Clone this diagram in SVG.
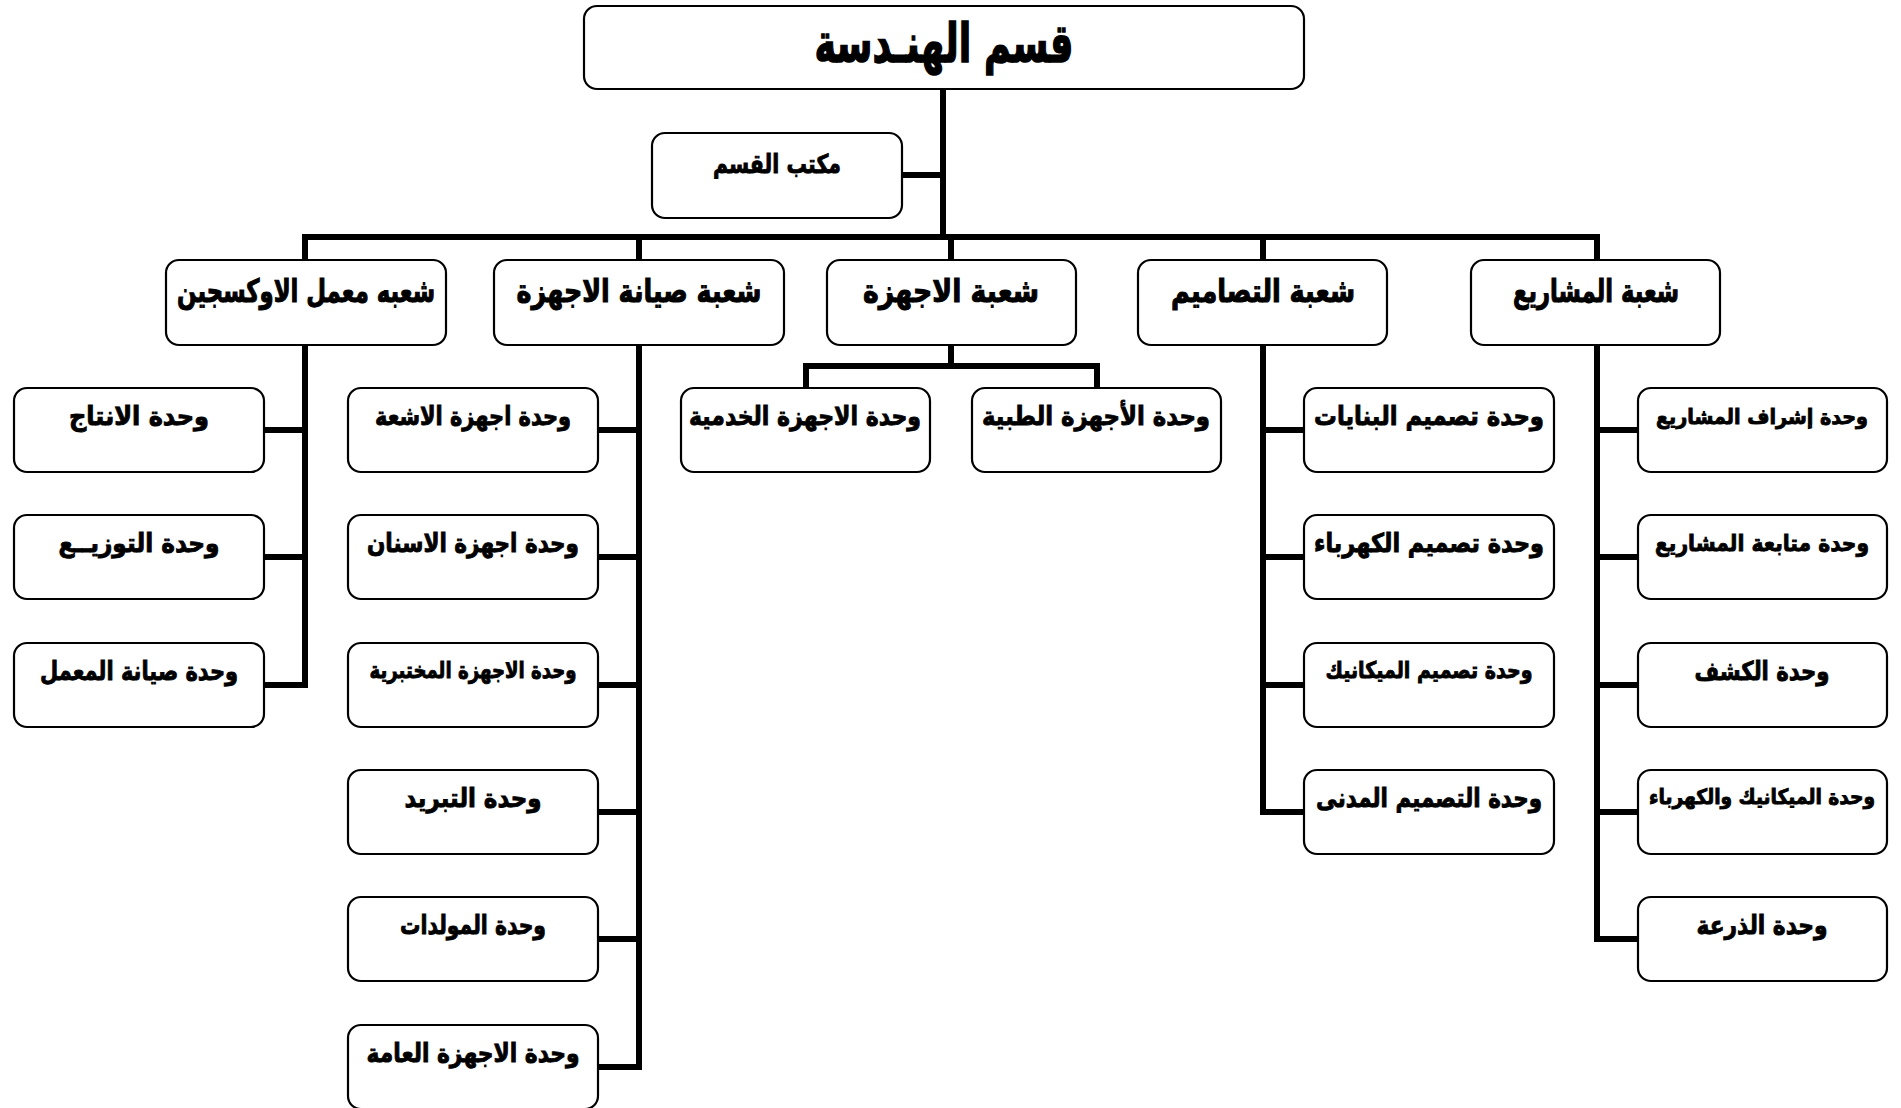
<svg xmlns="http://www.w3.org/2000/svg" width="1901" height="1108" viewBox="0 0 1901 1108">
<style>
.box{fill:#fff;stroke:#000;stroke-width:2.2}
.ln{stroke:#000;stroke-width:6;fill:none;stroke-linecap:square}
text{font-family:"DejaVu Sans",sans-serif;font-weight:bold;fill:#000;stroke:#000;stroke-width:0.9;text-anchor:middle}
.t0{font-size:54px;stroke-width:1.6}
.t1{font-size:32px;stroke-width:1.1}
.t2{font-size:26px}
.t3{font-size:23px}
.t4{font-size:21px}
</style>
<rect width="1901" height="1108" fill="#fff"/>
<g id="connectors">
<path class="ln" d="M943 89V237M902 175H943M305 237H1597M305 237V260M639 237V260M951 237V260M1263 237V260M1597 237V260"/>
<path class="ln" d="M305 345V685M264 430H305M264 557H305M264 685H305"/>
<path class="ln" d="M639 345V1067M598 430H639M598 557H639M598 685H639M598 812H639M598 939H639M598 1067H639"/>
<path class="ln" d="M951 345V366M806 366H1097M806 366V388M1097 366V388"/>
<path class="ln" d="M1263 345V812M1263 430H1304M1263 557H1304M1263 685H1304M1263 812H1304"/>
<path class="ln" d="M1597 345V939M1597 430H1638M1597 557H1638M1597 685H1638M1597 812H1638M1597 939H1638"/>
</g>
<g id="n-root"><rect class="box" x="584" y="6" width="720" height="83" rx="13"/><text class="t0" x="944" y="62" textLength="259" lengthAdjust="spacingAndGlyphs">قسم الهنـدسة</text></g>
<g id="n-office"><rect class="box" x="652" y="133" width="250" height="85" rx="13"/><text class="t2" x="777" y="173" textLength="128" lengthAdjust="spacingAndGlyphs">مكتب القسم</text></g>

<g id="n-oxygen"><rect class="box" x="166" y="260" width="280" height="85" rx="13"/><text class="t1" x="306" y="302" textLength="258" lengthAdjust="spacingAndGlyphs">شعبه معمل الاوكسجين</text></g>
<g id="n-maint"><rect class="box" x="494" y="260" width="290" height="85" rx="13"/><text class="t1" x="639" y="302" textLength="245" lengthAdjust="spacingAndGlyphs">شعبة صيانة الاجهزة</text></g>
<g id="n-devices"><rect class="box" x="827" y="260" width="249" height="85" rx="13"/><text class="t1" x="951" y="302" textLength="176" lengthAdjust="spacingAndGlyphs">شعبة الاجهزة</text></g>
<g id="n-designs"><rect class="box" x="1138" y="260" width="249" height="85" rx="13"/><text class="t1" x="1263" y="302" textLength="184" lengthAdjust="spacingAndGlyphs">شعبة التصاميم</text></g>
<g id="n-projects"><rect class="box" x="1471" y="260" width="249" height="85" rx="13"/><text class="t1" x="1596" y="302" textLength="166" lengthAdjust="spacingAndGlyphs">شعبة المشاريع</text></g>

<g id="n-ox1"><rect class="box" x="14" y="388" width="250" height="84" rx="13"/><text class="t2" x="139" y="425" textLength="140" lengthAdjust="spacingAndGlyphs">وحدة الانتاج</text></g>
<g id="n-ox2"><rect class="box" x="14" y="515" width="250" height="84" rx="13"/><text class="t2" x="139" y="552" textLength="161" lengthAdjust="spacingAndGlyphs">وحدة التوزيــع</text></g>
<g id="n-ox3"><rect class="box" x="14" y="643" width="250" height="84" rx="13"/><text class="t2" x="139" y="680" textLength="198" lengthAdjust="spacingAndGlyphs">وحدة صيانة المعمل</text></g>

<g id="n-m1"><rect class="box" x="348" y="388" width="250" height="84" rx="13"/><text class="t2" x="473" y="425" textLength="196" lengthAdjust="spacingAndGlyphs">وحدة اجهزة الاشعة</text></g>
<g id="n-m2"><rect class="box" x="348" y="515" width="250" height="84" rx="13"/><text class="t2" x="473" y="552" textLength="212" lengthAdjust="spacingAndGlyphs">وحدة اجهزة الاسنان</text></g>
<g id="n-m3"><rect class="box" x="348" y="643" width="250" height="84" rx="13"/><text class="t3" x="473" y="678" textLength="207" lengthAdjust="spacingAndGlyphs">وحدة الاجهزة المختبرية</text></g>
<g id="n-m4"><rect class="box" x="348" y="770" width="250" height="84" rx="13"/><text class="t2" x="473" y="807" textLength="137" lengthAdjust="spacingAndGlyphs">وحدة التبريد</text></g>
<g id="n-m5"><rect class="box" x="348" y="897" width="250" height="84" rx="13"/><text class="t2" x="473" y="934" textLength="146" lengthAdjust="spacingAndGlyphs">وحدة المولدات</text></g>
<g id="n-m6"><rect class="box" x="348" y="1025" width="250" height="84" rx="13"/><text class="t2" x="473" y="1062" textLength="213" lengthAdjust="spacingAndGlyphs">وحدة الاجهزة العامة</text></g>

<g id="n-d1"><rect class="box" x="681" y="388" width="249" height="84" rx="13"/><text class="t2" x="805" y="425" textLength="232" lengthAdjust="spacingAndGlyphs">وحدة الاجهزة الخدمية</text></g>
<g id="n-d2"><rect class="box" x="972" y="388" width="249" height="84" rx="13"/><text class="t2" x="1096" y="425" textLength="228" lengthAdjust="spacingAndGlyphs">وحدة الأجهزة الطبية</text></g>

<g id="n-ds1"><rect class="box" x="1304" y="388" width="250" height="84" rx="13"/><text class="t2" x="1429" y="425" textLength="230" lengthAdjust="spacingAndGlyphs">وحدة تصميم البنايات</text></g>
<g id="n-ds2"><rect class="box" x="1304" y="515" width="250" height="84" rx="13"/><text class="t2" x="1429" y="552" textLength="230" lengthAdjust="spacingAndGlyphs">وحدة تصميم الكهرباء</text></g>
<g id="n-ds3"><rect class="box" x="1304" y="643" width="250" height="84" rx="13"/><text class="t3" x="1429" y="678" textLength="207" lengthAdjust="spacingAndGlyphs">وحدة تصميم الميكانيك</text></g>
<g id="n-ds4"><rect class="box" x="1304" y="770" width="250" height="84" rx="13"/><text class="t2" x="1429" y="807" textLength="226" lengthAdjust="spacingAndGlyphs">وحدة التصميم المدنى</text></g>

<g id="n-p1"><rect class="box" x="1638" y="388" width="249" height="84" rx="13"/><text class="t4" x="1762" y="424" textLength="212" lengthAdjust="spacingAndGlyphs">وحدة إشراف المشاريع</text></g>
<g id="n-p2"><rect class="box" x="1638" y="515" width="249" height="84" rx="13"/><text class="t3" x="1762" y="551" textLength="214" lengthAdjust="spacingAndGlyphs">وحدة متابعة المشاريع</text></g>
<g id="n-p3"><rect class="box" x="1638" y="643" width="249" height="84" rx="13"/><text class="t2" x="1762" y="680" textLength="135" lengthAdjust="spacingAndGlyphs">وحدة الكشف</text></g>
<g id="n-p4"><rect class="box" x="1638" y="770" width="249" height="84" rx="13"/><text class="t4" x="1762" y="804" textLength="226" lengthAdjust="spacingAndGlyphs">وحدة الميكانيك والكهرباء</text></g>
<g id="n-p5"><rect class="box" x="1638" y="897" width="249" height="84" rx="13"/><text class="t2" x="1762" y="934" textLength="131" lengthAdjust="spacingAndGlyphs">وحدة الذرعة</text></g>
</svg>
